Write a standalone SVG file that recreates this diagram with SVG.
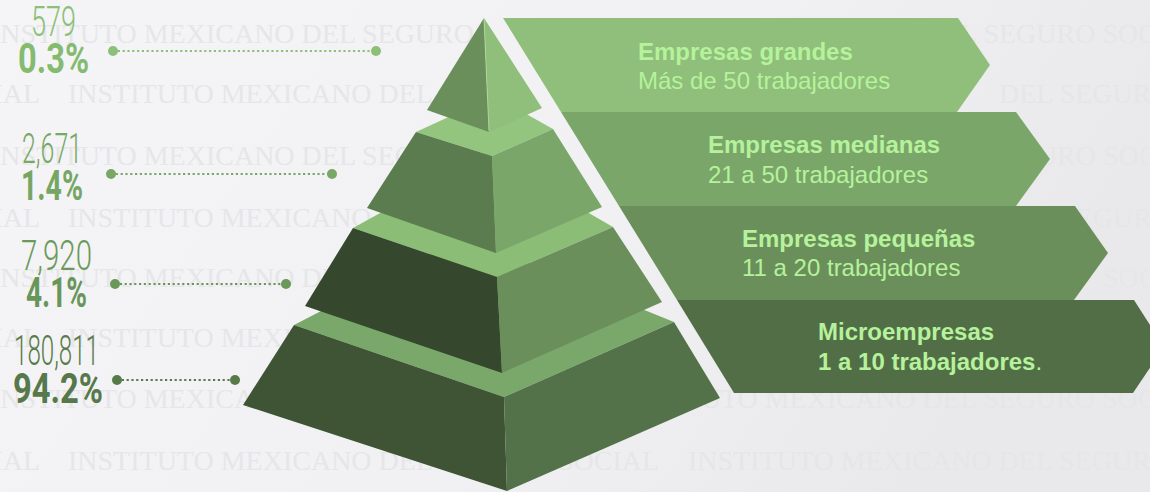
<svg xmlns="http://www.w3.org/2000/svg" width="1150" height="492" viewBox="0 0 1150 492">
<defs>
<linearGradient id="bg" x1="0" y1="0" x2="1" y2="0.3">
<stop offset="0" stop-color="#f5f5f7"/>
<stop offset="0.6" stop-color="#f1f1f3"/>
<stop offset="1" stop-color="#e9e9eb"/>
</linearGradient>
<style>
.wm{font-family:"Liberation Serif",serif;font-size:28px;fill:#e6e6e8}
.num{font-family:"Roboto","Liberation Sans",sans-serif;font-size:42px;font-weight:300}
.pct{font-family:"Roboto","Liberation Sans",sans-serif;font-size:43px;font-weight:700}
.bt{font-family:"Liberation Sans",Arial,sans-serif;font-size:24px;fill:#b6f29c}
.b{font-weight:700}
.dot{fill:none;stroke-width:2.2;stroke-dasharray:2.2 2.6}
</style>
</defs>
<rect id="background" x="0" y="0" width="1150" height="492" fill="url(#bg)"/>
<g id="watermark" class="wm">
<text x="-9" y="43">INSTITUTO MEXICANO DEL SEGURO</text>
<text x="923" y="43">DEL SEGURO SOCIAL</text>
<text x="-61" y="103">SOCIAL</text>
<text x="68" y="103">INSTITUTO MEXICANO DEL</text>
<text x="999" y="103">DEL SEGURO</text>
<text x="-9" y="165">INSTITUTO MEXICANO DEL SEGURO</text>
<text x="984" y="165">SEGURO SOCIAL</text>
<text x="-61" y="227">SOCIAL</text>
<text x="68" y="227">INSTITUTO MEXICANO</text>
<text x="1060" y="227">SEGURO</text>
<text x="-9" y="287">INSTITUTO MEXICANO DEL</text>
<text x="1103" y="287">SOCIAL</text>
<text x="-61" y="347">SOCIAL</text>
<text x="68" y="347">INSTITUTO MEXICANO</text>
<text x="-9" y="408">INSTITUTO MEXICANO</text>
<text x="612" y="408">INSTITUTO MEXICANO DEL SEGURO SOCIAL</text>
<text x="-61" y="470">SOCIAL</text>
<text x="68" y="470">INSTITUTO MEXICANO DEL SEGURO SOCIAL</text>
<text x="688" y="470">INSTITUTO MEXICANO DEL SEGURO</text>
</g>
<g id="banners">
<g id="banner-grandes">
<polygon points="503,18 958,18 990,65 957,112 561,112" fill="#8fbf7a"/>
<text class="bt b" x="638" y="60">Empresas grandes</text>
<text class="bt" x="638" y="89">Más de 50 trabajadores</text>
</g>
<g id="banner-medianas">
<polygon points="561,112 1016,112 1050,159 1016,206 619,206" fill="#7aa66a"/>
<text class="bt b" x="708" y="153">Empresas medianas</text>
<text class="bt" x="708" y="183">21 a 50 trabajadores</text>
</g>
<g id="banner-pequenas">
<polygon points="619,206 1075,206 1108,253 1074,300 677,300" fill="#6b8f5b"/>
<text class="bt b" x="742" y="247">Empresas pequeñas</text>
<text class="bt" x="742" y="276">11 a 20 trabajadores</text>
</g>
<g id="banner-micro">
<polygon points="677,300 1134,300 1164,347 1133,393 734,393" fill="#526e46"/>
<text class="bt b" x="818" y="340">Microempresas</text>
<text class="bt" x="818" y="370"><tspan class="b">1 a 10 trabajadores</tspan>.</text>
</g>
</g>
<g id="pyramid">
<g id="tier-4">
<polygon points="294,325 464,237 674,322 504,397" fill="#7aa86a"/>
<polygon points="294,325 504,397 507,491 243,405" fill="#3e5435"/>
<polygon points="504,397 674,322 720,398 507,491" fill="#547249"/>
</g>
<g id="tier-3">
<polygon points="353,228 487,154 613,227 497,277" fill="#8bbd77"/>
<polygon points="353,228 497,277 502,373 305,306" fill="#35482e"/>
<polygon points="497,277 613,227 662,302 502,373" fill="#6b8f5b"/>
</g>
<g id="tier-2">
<polygon points="416,132 494,96 553,129 492,156" fill="#93c57f"/>
<polygon points="416,132 492,156 496,253 367,208" fill="#5b7c4e"/>
<polygon points="492,156 553,129 602,207 496,253" fill="#7aa66a"/>
</g>
<g id="tier-1">
<polygon points="484,18 427,110 489,132" fill="#6b8f5a"/>
<polygon points="484,18 489,132 542,108" fill="#8fbf7a"/>
<line x1="484" y1="19" x2="489" y2="131" stroke="#b4d9a2" stroke-width="0.8"/>
</g>
</g>
<g id="connectors">
<g stroke="#8cc078" fill="#8cc078">
<line class="dot" x1="113" y1="51" x2="376" y2="51"/>
<circle cx="113" cy="51" r="5" stroke="none"/>
<circle cx="376" cy="51" r="5" stroke="none"/>
</g>
<g stroke="#78a866" fill="#78a866">
<line class="dot" x1="111" y1="174" x2="332" y2="174"/>
<circle cx="111" cy="174" r="5" stroke="none"/>
<circle cx="332" cy="174" r="5" stroke="none"/>
</g>
<g stroke="#6a985a" fill="#6a985a">
<line class="dot" x1="115" y1="284" x2="286" y2="284"/>
<circle cx="115" cy="284" r="5" stroke="none"/>
<circle cx="286" cy="284" r="5" stroke="none"/>
</g>
<g stroke="#587a4a" fill="#587a4a">
<line class="dot" x1="117" y1="380" x2="235" y2="380"/>
<circle cx="117" cy="380" r="5" stroke="none"/>
<circle cx="235" cy="380" r="5" stroke="none"/>
</g>
</g>
<g id="label-grandes">
<text class="num" x="31" y="36" fill="#8cc078" textLength="45" lengthAdjust="spacingAndGlyphs">579</text>
<text class="pct" x="18" y="73" fill="#84bb70" textLength="71" lengthAdjust="spacingAndGlyphs">0.3%</text>
</g>
<g id="label-medianas">
<text class="num" x="22" y="163" fill="#78a866" textLength="60" lengthAdjust="spacingAndGlyphs">2,671</text>
<text class="pct" x="21" y="200" fill="#76a664" textLength="62" lengthAdjust="spacingAndGlyphs">1.4%</text>
</g>
<g id="label-pequenas">
<text class="num" x="21" y="270" fill="#6c9a5c" textLength="71" lengthAdjust="spacingAndGlyphs">7,920</text>
<text class="pct" x="26" y="307" fill="#68965a" textLength="61" lengthAdjust="spacingAndGlyphs">4.1%</text>
</g>
<g id="label-micro">
<text class="num" x="14" y="365" fill="#5a7c4c" textLength="85" lengthAdjust="spacingAndGlyphs">180,811</text>
<text class="pct" x="13" y="403" fill="#56784a" textLength="90" lengthAdjust="spacingAndGlyphs">94.2%</text>
</g>
</svg>
